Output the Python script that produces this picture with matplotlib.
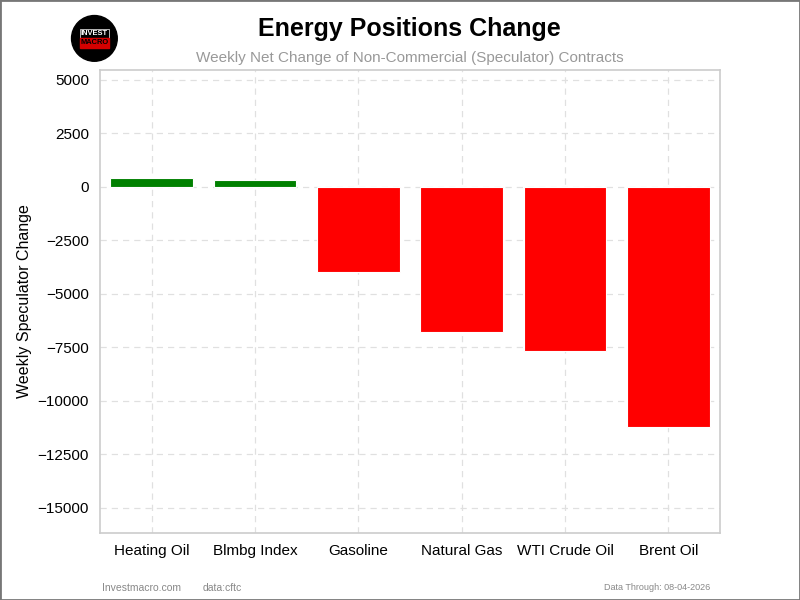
import matplotlib.pyplot as plt
from matplotlib.patches import Circle, Rectangle

plt.rcParams['font.family'] = ['Liberation Sans', 'DejaVu Sans']

markets = ['Heating Oil', 'Blmbg Index', 'Gasoline', 'Natural Gas', 'WTI Crude Oil', 'Brent Oil']
changes = [420, 310, -3980, -6790, -7660, -11220]
y_ticks = [5000, 2500, 0, -2500, -5000, -7500, -10000, -12500, -15000]

colors = ['green' if v >= 0 else 'red' for v in changes]

fig = plt.figure(figsize=(8, 6), dpi=100)
ax = fig.add_axes([0.125, 0.112, 0.775, 0.772])

ax.bar(range(len(markets)), changes, width=0.8, color=colors, edgecolor='white', linewidth=0.8, zorder=3)
ax.set_xlim(-0.5, len(markets) - 0.5)
ax.set_ylim(-16180, 5470)
ax.set_xticks(range(len(markets)))
ax.set_xticklabels(markets, fontsize=11)
ax.set_yticks(y_ticks)
ax.set_yticklabels([f'{t}'.replace('-', '\u2212') for t in y_ticks], fontsize=11)
ax.tick_params(length=0, pad=8)
ax.grid(True, linestyle=(0, (5, 4)), color='#e0e0e0', linewidth=0.9, zorder=0)
for s in ax.spines.values():
    s.set_color('#cccccc')
    s.set_linewidth(1.2)
ax.set_ylabel('Weekly Speculator Change', fontsize=11.5, labelpad=4)

# title and subtitle
fig.text(0.512, 0.952, 'Energy Positions Change', ha='center', va='center', fontsize=18, fontweight='bold')
fig.text(0.512, 0.904, 'Weekly Net Change of Non-Commercial (Speculator) Contracts',
         ha='center', va='center', fontsize=11, color='#999999')

# logo
logo = fig.add_axes([0.088, 0.896, 0.06, 0.08])
logo.set_xlim(-1.05, 1.05)
logo.set_ylim(-1.05, 1.05)
logo.set_aspect('equal')
logo.axis('off')
logo.add_patch(Circle((0, 0), 1, color='black', clip_on=False))
logo.add_patch(Rectangle((-0.64, 0.02), 1.28, 0.4, fill=False, edgecolor='white', linewidth=0.5))
logo.add_patch(Rectangle((-0.64, -0.40), 1.28, 0.4, color='#d40000'))
logo.text(0, 0.22, 'INVEST', color='white', ha='center', va='center', fontsize=5.4, fontweight='bold')
logo.text(0, -0.20, 'MACRO', color='black', ha='center', va='center', fontsize=5.4, fontweight='bold')

# footer
fig.text(0.127, 0.02, 'Investmacro.com', fontsize=7.5, color='#888888', va='center')
fig.text(0.253, 0.02, 'data:cftc', fontsize=7.5, color='#888888', va='center')
fig.text(0.888, 0.02, 'Data Through: 08-04-2026', fontsize=6.5, color='#888888', va='center', ha='right')

# figure border
fig.patches.append(Rectangle((0, 0), 1, 1, transform=fig.transFigure, fill=False,
                             edgecolor='#777777', linewidth=2))

plt.savefig('out.png', dpi=100)
plt.close(fig)
